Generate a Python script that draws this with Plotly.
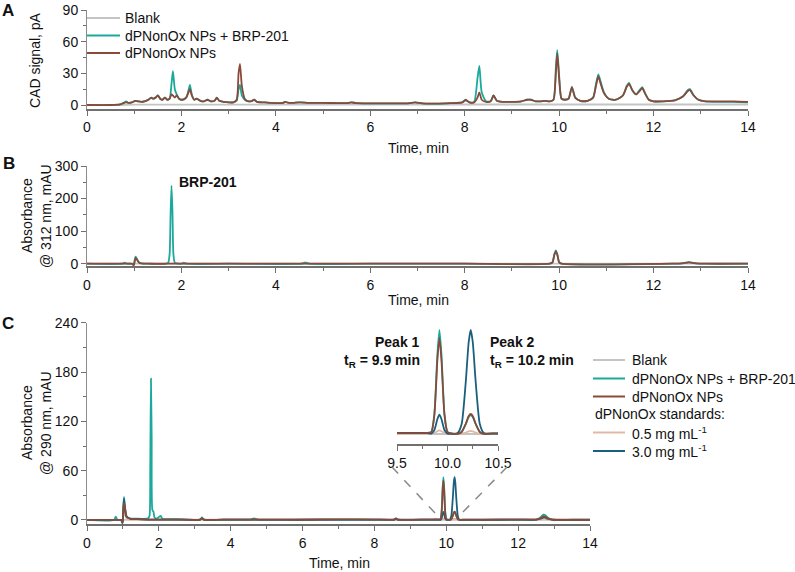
import plotly.graph_objects as go

# ---------------- data ----------------
# Panel A: CAD signal, pA
t_A = [0.0, 0.5, 0.7, 0.78, 0.83, 0.88, 0.95, 1.02, 1.08, 1.15,
       1.22, 1.3, 1.36, 1.4, 1.45, 1.5, 1.55, 1.6, 1.65, 1.7,
       1.75, 1.79, 1.82, 1.86, 1.9, 1.95, 2.02, 2.1, 2.15, 2.18,
       2.22, 2.27, 2.32, 2.4, 2.48, 2.55, 2.62, 2.7, 2.75, 2.8,
       2.9, 3.0, 3.1, 3.17, 3.21, 3.24, 3.28, 3.34, 3.42, 3.5,
       3.54, 3.6, 3.75, 3.9, 4.05, 4.15, 4.2, 4.25, 4.35, 4.5,
       4.7, 5.0, 5.3, 5.5, 5.6, 5.7, 6.0, 6.4, 6.8, 6.95,
       7.1, 7.4, 7.7, 7.95, 8.02, 8.1, 8.2, 8.27, 8.31, 8.36,
       8.45, 8.55, 8.61, 8.68, 8.8, 9.0, 9.2, 9.32, 9.4, 9.5,
       9.6, 9.7, 9.8, 9.88, 9.93, 9.96, 10.0, 10.05, 10.12, 10.2,
       10.27, 10.34, 10.45, 10.6, 10.72, 10.78, 10.83, 10.88, 10.95, 11.05,
       11.2, 11.35, 11.43, 11.48, 11.55, 11.63, 11.7, 11.76, 11.82, 11.9,
       12.0, 12.2, 12.45, 12.62, 12.72, 12.77, 12.85, 12.95, 13.1, 13.4,
       13.7, 14.0]
A_nps = [0, 0, 0.5, 2, 2.5, 2, 2.5, 4, 3.5, 3,
         3.5, 5, 7, 6, 7, 9, 6, 5, 7, 5,
         6, 10, 9, 7, 9, 6, 5, 7, 12, 15,
         9, 5, 6, 4, 3.5, 5, 3.5, 4, 7, 4,
         3, 2.5, 2.5, 5, 30, 39, 18, 6, 3.5, 4,
         5, 3, 2.5, 2, 1.8, 2, 3, 2.2, 2, 2.5,
         2, 2, 1.8, 1.8, 2.5, 1.8, 1.6, 1.5, 1.6, 2.5,
         1.5, 1.3, 1.8, 2.5, 5, 2.5, 2.5, 7, 12, 5,
         3, 3.5, 9, 4, 3, 3, 3.5, 5, 5, 3.5,
         3.5, 4, 3.5, 5, 30, 49, 25, 6, 5, 6,
         17, 7, 4, 4, 7, 18, 27, 20, 11, 6,
         5, 9, 17, 20, 14, 10, 13, 16, 11, 5,
         3.5, 3.5, 4.5, 8, 13, 14, 9, 5, 3.5, 3.5,
         3.5, 3]
A_brp = [0, 0, 0.5, 2, 3.5, 2, 2.5, 4, 3.5, 3,
         3.5, 5, 7, 6, 7, 9, 6, 5, 7, 5,
         6, 20, 32, 15, 10, 6, 5, 7, 14, 19,
         10, 5, 6, 4, 3.5, 5, 3.5, 4, 7, 4,
         3, 2.5, 2.5, 4, 15, 19, 9, 5, 3.5, 4,
         5, 3, 2.5, 2, 1.8, 2, 3, 2.2, 2, 2.5,
         2, 2, 1.8, 1.8, 2.5, 1.8, 1.6, 1.5, 1.6, 2.5,
         1.5, 1.3, 1.8, 2.5, 4.5, 2.5, 3, 25, 37, 12,
         3.5, 3.5, 9, 4, 3, 3, 3.5, 5, 5, 3.5,
         3.5, 4, 3.5, 5, 35, 52, 28, 6, 5, 6,
         17, 7, 4, 4, 7, 20, 29, 22, 12, 6,
         5, 9, 18, 21, 14, 10, 14, 17, 11, 5,
         3.5, 3.5, 4.5, 8, 14, 15, 9, 5, 3.5, 3,
         3, 2.5]
t_A_blank = [0, 0.7, 1.0, 2.0, 4.0, 6.0, 8.0, 10.0, 12.0, 14.0]
A_blank = [0, 0, 0.3, 0.3, 0.3, 0.5, 0.5, 0.5, 0.5, 0.5]

# Panel B: absorbance @ 312 nm, mAU
t_B = [0, 0.75, 0.8, 0.85, 0.95, 0.99, 1.01, 1.03, 1.06, 1.1,
       1.15, 1.3, 1.68, 1.72, 1.75, 1.77, 1.79, 1.81, 1.83, 1.86,
       1.9, 2.0, 2.05, 2.1, 3.0, 4.55, 4.6, 4.65, 4.7, 6.0,
       8.0, 9.8, 9.86, 9.9, 9.93, 9.96, 10.0, 10.05, 12.4, 12.6,
       12.75, 12.9, 13.1, 14.0]
B_brp = [0, 0, 3, 0, 0, -2, 12, 22, 14, 4,
         1, 0, 0, 3, 30, 150, 240, 160, 30, 3,
         1, 0, 3, 0, 0, 0, 3, 3, 0, 0,
         0, 0, 5, 30, 41, 30, 5, 0, 0, 1,
         5, 1, 0, 0]
B_nps = [0, 0, 0, 0, 0, -5, 6, 18, 12, 4,
         1, 0, 0, 0, 0, 0, 0, 0, 0, 0,
         0, 0, 0, 0, 0, 0, 0, 0, 0, 0,
         0, 0, 4, 28, 38, 28, 4, 0, 0, 1,
         4, 1, 0, 0]
t_B_blank = [0, 14]
B_blank = [0, 0]

# Panel C: absorbance @ 290 nm, mAU
t_C = [0, 0.75, 0.8, 0.85, 0.95, 0.99, 1.01, 1.03, 1.06, 1.1,
       1.2, 1.4, 1.7, 1.74, 1.76, 1.78, 1.8, 1.82, 1.85, 1.88,
       1.95, 2.05, 2.1, 2.5, 3.15, 3.2, 3.25, 4.0, 4.55, 4.65,
       4.75, 6.0, 7.0, 8.0, 8.55, 8.6, 8.65, 9.5, 9.8, 9.84,
       9.87, 9.9, 9.92, 9.94, 9.97, 10.0, 10.04, 10.1, 10.14, 10.18,
       10.21, 10.23, 10.25, 10.28, 10.32, 10.36, 10.45, 11.0, 12.0, 12.5,
       12.62, 12.7, 12.75, 12.82, 12.95, 13.5, 14.0]
C_brp = [0, 0, 4, 0, 0, -4, 15, 28, 14, 4,
         2, 1.5, 2, 5, 60, 172, 100, 12, 10, 3,
         2, 5, 1.5, 1, 0.5, 3, 0.5, 0.5, 0.5, 2,
         0.5, 0.3, 0.5, 0.5, 0.5, 2, 0.5, 0.5, 0.5, 1,
         10, 40, 52, 40, 10, 1, 0.3, 0.1, 1, 4.8,
         8.5, 9.5, 8.5, 4.8, 1, 0.1, 0.3, 0.3, 0.5, 0.5,
         3, 6.5, 6, 3, 0.5, 0.3, 0.3]
C_nps = [0, 0, 0, 0, 0, -3, 8, 21, 15, 5,
         1.5, 1, 0.5, 0.5, 0.5, 0.5, 0.5, 0.5, 0.5, 0.5,
         0.5, 0.5, 0.5, 0.5, 0.5, 2, 0.5, 0.5, 0.5, 0.5,
         0.5, 0.3, 0.8, 0.5, 0.5, 2, 0.5, 0.5, 0.5, 1,
         9.5, 37, 48, 37, 9.5, 1, 0.3, 0.1, 1, 5,
         9, 10, 9, 5, 1, 0.1, 0.3, 0.3, 0.5, 0.5,
         2, 4.5, 4, 2, 0.5, 0.3, 0.3]
C_std_high = [0, 0, 0, 0, 0, -4, 14, 26, 12, 4,
              1.5, 1, 0.5, 0.5, 0.5, 0.5, 0.5, 0.5, 0.5, 0.5,
              0.5, 0.5, 0.5, 0.5, 0.5, 2, 0.5, 0.5, 0.5, 0.5,
              0.5, 0.3, 0.5, 0.5, 0.5, 1, 0.5, 0.5, 0.5, 0.2,
              2, 7.5, 9.7, 7.5, 2, 0.2, 0.1, 0.5, 5, 25.5,
              46, 52, 46, 25.5, 5, 0.5, 0.2, 0.2, 0.4, 0.4,
              1.5, 3, 3, 1.5, 0.4, 0.2, 0.2]
C_std_low = [0, 0, 0, 0, 0, -2, 6, 10, 6, 2,
             0.5, 0.5, 0.3, 0.3, 0.3, 0.3, 0.3, 0.3, 0.3, 0.3,
             0.3, 0.3, 0.3, 0.3, 0.3, 0.5, 0.3, 0.3, 0.3, 0.3,
             0.3, 0.3, 0.3, 0.3, 0.3, 0.5, 0.3, 0.3, 0.3, 0,
             0.4, 1.4, 1.8, 1.4, 0.4, 0, 0, 0, 0.15, 0.7,
             1.3, 1.5, 1.3, 0.7, 0.15, 0, 0, 0.2, 0.3, 0.3,
             0.5, 1, 1, 0.5, 0.3, 0.2, 0.2]
t_C_blank = [0, 14]
C_blank = [0, 0]

legend_A = ["Blank", "dPNonOx NPs + BRP-201", "dPNonOx NPs"]
legend_C = ["Blank", "dPNonOx NPs + BRP-201", "dPNonOx NPs", "dPNonOx standards:",
            "0.5 mg mL<sup>-1</sup>", "3.0 mg mL<sup>-1</sup>"]
x_ticks_main = [0, 2, 4, 6, 8, 10, 12, 14]
inset_ticks = [9.5, 10.0, 10.5]
inset_ticktext = ["9.5", "10.0", "10.5"]

# ---------------- styling ----------------
W, H = 795, 572
def fx(p):
    return p / W
def fy(p):
    return 1 - p / H

FONT = "Liberation Sans, Arial, Helvetica, sans-serif"
C_BLANK = "#c4c4c4"
C_BRP = "#1aa99a"
C_NPS = "#8a4a3a"
C_LOW = "#e2b8a5"
C_HIGH = "#1b5f7e"
AXC = "#707070"
TXT = "#111111"

fig = go.Figure()

def add(x, y, color, xa, ya, w=1.8):
    fig.add_trace(go.Scatter(x=x, y=y, mode="lines",
                             line=dict(color=color, width=w, shape="spline", smoothing=0.6),
                             xaxis=xa, yaxis=ya, showlegend=False, hoverinfo="skip"))

# Panel A
add(t_A_blank, A_blank, C_BLANK, "x", "y")
add(t_A, A_brp, C_BRP, "x", "y")
add(t_A, A_nps, C_NPS, "x", "y")
# Panel B
add(t_B_blank, B_blank, C_BLANK, "x2", "y2")
add(t_B, B_brp, C_BRP, "x2", "y2")
add(t_B, B_nps, C_NPS, "x2", "y2")
# Panel C main and inset
for xa, ya in (("x3", "y3"), ("x4", "y4")):
    add(t_C_blank, C_blank, C_BLANK, xa, ya)
    add(t_C, C_std_low, C_LOW, xa, ya)
    add(t_C, C_brp, C_BRP, xa, ya)
    add(t_C, C_std_high, C_HIGH, xa, ya)
    add(t_C, C_nps, C_NPS, xa, ya)

tickfont = dict(size=14, color=TXT, family=FONT)

def xaxis(px0, px1, anchor, rng, tickvals, minor_dtick, ticktext=None):
    d = dict(domain=[fx(px0), fx(px1)], anchor=anchor, range=rng,
             showline=True, linecolor=AXC, linewidth=2, mirror=False,
             ticks="outside", ticklen=5, tickwidth=1, tickcolor=AXC,
             tickvals=tickvals, tickfont=tickfont,
             minor=dict(dtick=minor_dtick, tick0=0, ticks="outside", ticklen=3,
                        tickwidth=1, tickcolor=AXC),
             showgrid=False, zeroline=False, fixedrange=True, automargin=False)
    if ticktext is not None:
        d["ticktext"] = ticktext
    return d

def yaxis(py_top, py_bot, anchor, rng, dtick, minor_dtick):
    return dict(domain=[fy(py_bot), fy(py_top)], anchor=anchor, range=rng,
                showline=True, linecolor="#8c8c8c", linewidth=1,
                ticks="outside", ticklen=5, tickwidth=1, tickcolor=AXC,
                tick0=0, dtick=dtick, tickfont=tickfont,
                minor=dict(dtick=minor_dtick, tick0=0, ticks="outside", ticklen=3,
                           tickwidth=1, tickcolor=AXC),
                showgrid=False, zeroline=False, fixedrange=True, automargin=False)

fig.update_layout(
    width=W, height=H,
    margin=dict(l=0, r=0, t=0, b=0),
    paper_bgcolor="white", plot_bgcolor="rgba(0,0,0,0)",
    font=dict(family=FONT, size=14, color=TXT),
    showlegend=False,
    xaxis=xaxis(87, 748, "y", [0, 14], x_ticks_main, 1),
    yaxis=yaxis(10, 108.5, "x", [-3.3, 90], 30, 15),
    xaxis2=xaxis(87, 748, "y2", [0, 14], x_ticks_main, 1),
    yaxis2=yaxis(166, 266, "x2", [-7, 300], 100, 50),
    xaxis3=xaxis(87, 590, "y3", [0, 14], x_ticks_main, 1),
    yaxis3=yaxis(322.7, 524, "x3", [-4.9, 240], 60, 30),
    xaxis4=dict(xaxis(397, 498, "y4", [9.5, 10.5], inset_ticks, 0.25, inset_ticktext),
                linewidth=1.5),
    yaxis4=dict(domain=[fy(444), fy(328)], anchor="x4", range=[-5, 53], visible=False,
                fixedrange=True),
)

ann = []
def text(x, y, s, size=14, bold=False, xanchor="center", angle=0):
    ann.append(dict(x=fx(x), y=fy(y), xref="paper", yref="paper", text=("<b>%s</b>" % s) if bold else s,
                    showarrow=False, xanchor=xanchor, yanchor="middle", textangle=angle,
                    font=dict(size=size, color=TXT, family=FONT)))

# panel letters
text(8, 10, "A", 17, True)
text(8.5, 163.5, "B", 17, True)
text(8, 323, "C", 17, True)
# axis titles
text(35, 60, "CAD signal, pA", angle=-90)
text(27, 216, "Absorbance", angle=-90)
text(46, 216, "@ 312 nm, mAU", angle=-90)
text(27, 423, "Absorbance", angle=-90)
text(46, 423, "@ 290 nm, mAU", angle=-90)
text(418, 148, "Time, min")
text(418, 300, "Time, min")
text(339, 563, "Time, min")
# peak labels
text(177, 182, "BRP-201", bold=True, xanchor="left")
text(422, 342, "Peak 1", bold=True, xanchor="right")
text(422, 361, "t<sub>R</sub> = 9.9 min", bold=True, xanchor="right")
text(488, 342, "Peak 2", bold=True, xanchor="left")
text(488, 361, "t<sub>R</sub> = 10.2 min", bold=True, xanchor="left")

shapes = []
def hline(x0, x1, y, color, w=2):
    shapes.append(dict(type="line", xref="paper", yref="paper", x0=fx(x0), x1=fx(x1),
                       y0=fy(y), y1=fy(y), line=dict(color=color, width=w)))

# legend A
for lab, col, yy in zip(legend_A, [C_BLANK, C_BRP, C_NPS], [18, 35.5, 53]):
    hline(87, 120, yy, col)
    text(123, yy, lab, xanchor="left")
# legend C
leg_cols = [C_BLANK, C_BRP, C_NPS, None, C_LOW, C_HIGH]
leg_y = [360, 378.5, 396.5, 414, 432.5, 451]
for lab, col, yy in zip(legend_C, leg_cols, leg_y):
    if col is None:
        text(593, yy, lab, xanchor="left")
    else:
        hline(593, 625, yy, col)
        text(630, yy, lab, xanchor="left")

# zoom connectors (dashed)
for (x0, y0, x1, y1) in [(392, 467, 435, 513), (507, 467, 462, 513)]:
    shapes.append(dict(type="line", xref="paper", yref="paper", x0=fx(x0), y0=fy(y0),
                       x1=fx(x1), y1=fy(y1), line=dict(color="#8a8a8a", width=1.5, dash="dash")))

fig.update_layout(annotations=ann, shapes=shapes)
fig.write_html("out.html", config={"displayModeBar": False},
               post_script="document.body.style.margin='0';document.body.style.overflow='hidden';")
